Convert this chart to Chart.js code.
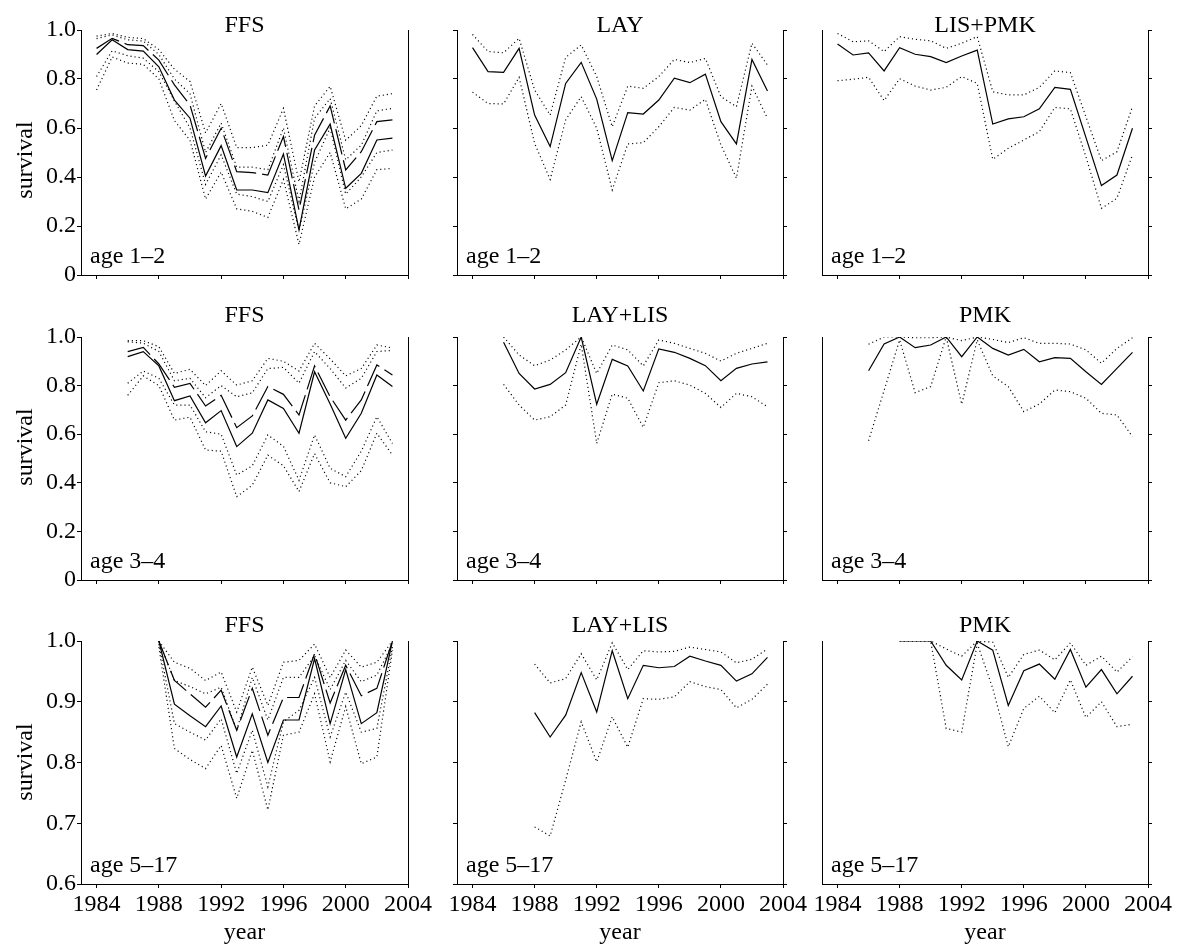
<!DOCTYPE html>
<html>
<head>
<meta charset="utf-8">
<script src="https://cdn.jsdelivr.net/npm/chart.js@4.4.1/dist/chart.umd.min.js"></script>
<style>
  html, body { margin: 0; padding: 0; background: #fff; }
  #wrap { position: relative; width: 1177px; height: 944px; }
  #wrap canvas { position: absolute; left: 0; top: 0; }
</style>
</head>
<body>
<div id="wrap"></div>
<script>
// years
const YEARS_84 = [1984,1985,1986,1987,1988,1989,1990,1991,1992,1993,1994,1995,1996,1997,1998,1999,2000,2001,2002,2003];
const YEARS_86 = [1986,1987,1988,1989,1990,1991,1992,1993,1994,1995,1996,1997,1998,1999,2000,2001,2002,2003];
const YEARS_88 = [1988,1989,1990,1991,1992,1993,1994,1995,1996,1997,1998,1999,2000,2001,2002,2003];

// tick labels
const YEAR_TICKS = [1984, 1988, 1992, 1996, 2000, 2004];
const Y_TICKS_FULL = [0, 0.2, 0.4, 0.6, 0.8, 1.0];
const Y_TICKS_ADULT = [0.6, 0.7, 0.8, 0.9, 1.0];

// FFS age 1-2 (solid estimate 1, dashed estimate 2, dotted bounds)
const ffs12_est1 = [0.90,0.96,0.92,0.914,0.85,0.714,0.64,0.404,0.528,0.347,0.347,0.336,0.494,0.184,0.51,0.616,0.354,0.415,0.551,0.559];
const ffs12_est2 = [0.925,0.966,0.94,0.936,0.877,0.776,0.694,0.476,0.599,0.422,0.418,0.408,0.565,0.265,0.571,0.69,0.429,0.503,0.626,0.633];
const ffs12_hi2 = [0.975,0.986,0.97,0.965,0.92,0.84,0.79,0.58,0.70,0.52,0.52,0.53,0.68,0.38,0.69,0.77,0.55,0.61,0.73,0.74];
const ffs12_hi1 = [0.965,0.98,0.96,0.955,0.90,0.80,0.74,0.50,0.62,0.44,0.44,0.43,0.60,0.30,0.64,0.72,0.47,0.53,0.67,0.68];
const ffs12_lo2 = [0.81,0.915,0.895,0.885,0.83,0.71,0.60,0.37,0.49,0.33,0.32,0.30,0.45,0.18,0.46,0.60,0.33,0.40,0.50,0.51];
const ffs12_lo1 = [0.755,0.89,0.865,0.86,0.80,0.63,0.55,0.31,0.42,0.27,0.26,0.235,0.39,0.125,0.40,0.50,0.27,0.31,0.43,0.435];

// LAY age 1-2
const lay12_est = [0.928,0.83,0.827,0.925,0.653,0.524,0.782,0.868,0.718,0.467,0.663,0.657,0.714,0.803,0.785,0.82,0.626,0.535,0.88,0.751];
const lay12_hi = [0.982,0.912,0.907,0.966,0.755,0.653,0.888,0.939,0.81,0.605,0.771,0.762,0.81,0.88,0.867,0.884,0.728,0.687,0.946,0.857];
const lay12_lo = [0.746,0.70,0.698,0.807,0.537,0.39,0.633,0.728,0.599,0.347,0.535,0.54,0.605,0.684,0.673,0.717,0.531,0.395,0.771,0.639];

// LIS+PMK age 1-2
const lp12_est = [0.943,0.898,0.907,0.833,0.928,0.901,0.891,0.867,0.894,0.918,0.616,0.637,0.646,0.678,0.766,0.758,0.562,0.365,0.408,0.599];
const lp12_hi = [0.986,0.952,0.956,0.912,0.973,0.962,0.956,0.925,0.946,0.973,0.748,0.735,0.735,0.766,0.833,0.826,0.646,0.467,0.503,0.687];
const lp12_lo = [0.793,0.799,0.807,0.712,0.801,0.771,0.755,0.766,0.81,0.782,0.472,0.517,0.551,0.585,0.684,0.678,0.483,0.272,0.313,0.49];

// FFS age 3-4
const ffs34_est1 = [0.919,0.94,0.881,0.738,0.757,0.647,0.697,0.549,0.604,0.741,0.706,0.604,0.857,0.724,0.583,0.686,0.844,0.796];
const ffs34_est2 = [0.94,0.957,0.889,0.793,0.809,0.716,0.76,0.627,0.675,0.796,0.764,0.679,0.881,0.754,0.658,0.741,0.885,0.844];
const ffs34_hi2 = [0.985,0.985,0.96,0.85,0.867,0.80,0.861,0.802,0.82,0.912,0.90,0.86,0.974,0.91,0.84,0.87,0.967,0.955];
const ffs34_hi1 = [0.98,0.975,0.94,0.82,0.83,0.75,0.80,0.754,0.77,0.87,0.875,0.81,0.94,0.87,0.79,0.83,0.94,0.945];
const ffs34_lo2 = [0.81,0.86,0.83,0.72,0.72,0.61,0.60,0.432,0.47,0.597,0.55,0.41,0.597,0.46,0.425,0.53,0.672,0.562];
const ffs34_lo1 = [0.76,0.84,0.80,0.658,0.67,0.535,0.53,0.343,0.39,0.514,0.47,0.364,0.52,0.40,0.384,0.45,0.604,0.514];

// LAY+LIS age 3-4
const ll34_est = [0.978,0.85,0.786,0.805,0.853,1.0,0.723,0.908,0.881,0.778,0.951,0.937,0.912,0.882,0.82,0.871,0.889,0.898];
const ll34_hi = [1.0,0.926,0.882,0.905,0.947,1.0,0.85,0.967,0.947,0.881,0.988,0.974,0.953,0.933,0.901,0.933,0.953,0.974];
const ll34_lo = [0.805,0.72,0.658,0.672,0.72,0.97,0.562,0.765,0.748,0.628,0.812,0.82,0.802,0.768,0.71,0.768,0.754,0.713];

// PMK age 3-4
const pmk34_est = [0.861,0.971,1.0,0.956,0.967,1.0,0.919,1.0,0.953,0.926,0.949,0.898,0.915,0.912,0.857,0.805,0.871,0.937];
const pmk34_hi = [0.97,1.0,1.0,0.997,0.997,1.0,0.985,1.0,0.99,0.977,0.997,0.974,0.974,0.971,0.947,0.892,0.953,0.997];
const pmk34_lo = [0.573,0.78,0.988,0.771,0.796,1.0,0.723,0.988,0.84,0.796,0.693,0.724,0.782,0.775,0.748,0.686,0.679,0.59];

// FFS age 5-17
const ffs517_est1 = [1.0,0.896,0.877,0.859,0.893,0.809,0.88,0.80,0.87,0.87,0.971,0.864,0.953,0.864,0.882,1.0];
const ffs517_est2 = [1.0,0.935,0.913,0.891,0.919,0.853,0.922,0.845,0.907,0.907,0.979,0.898,0.96,0.91,0.922,1.0];
const ffs517_hi2 = [1.0,0.965,0.955,0.935,0.949,0.883,0.957,0.894,0.965,0.968,0.995,0.94,0.985,0.957,0.965,1.0];
const ffs517_hi1 = [1.0,0.935,0.925,0.913,0.924,0.853,0.94,0.87,0.94,0.94,0.976,0.92,0.968,0.933,0.944,0.995];
const ffs517_lo2 = [0.995,0.864,0.85,0.837,0.872,0.782,0.853,0.76,0.867,0.886,0.94,0.842,0.916,0.85,0.856,0.99];
const ffs517_lo1 = [0.99,0.823,0.805,0.79,0.828,0.741,0.82,0.722,0.845,0.85,0.913,0.801,0.892,0.798,0.809,0.985];

// LAY+LIS age 5-17
const ll517_est = [0.882,0.842,0.878,0.948,0.883,0.984,0.905,0.96,0.956,0.958,0.975,0.967,0.96,0.934,0.946,0.973];
const ll517_hi = [0.962,0.931,0.938,0.979,0.936,0.997,0.953,0.984,0.982,0.983,0.99,0.986,0.982,0.964,0.97,0.987];
const ll517_lo = [0.694,0.679,0.771,0.867,0.801,0.875,0.825,0.905,0.904,0.908,0.933,0.925,0.92,0.89,0.904,0.929];

// PMK age 5-17
const pmk517_est = [1.0,1.0,1.0,0.96,0.936,1.0,0.985,0.894,0.951,0.962,0.937,0.986,0.924,0.953,0.913,0.942];
const pmk517_hi = [1.0,1.0,1.0,0.987,0.975,1.0,0.998,0.94,0.978,0.985,0.969,0.997,0.96,0.975,0.949,0.974];
const pmk517_lo = [1.0,1.0,1.0,0.856,0.85,0.996,0.922,0.826,0.889,0.909,0.882,0.936,0.874,0.90,0.859,0.863];

// layout
const W = 1177, H = 944;
const COL_LEFT = [81, 457, 822];
const COL_RIGHT = [408, 783, 1148];
const ROW_TOP = [30, 337, 641];
const ROW_BOTTOM = [275, 580, 884];
const TITLE_Y = [32, 322, 632];
const SURVIVAL_MID = [160, 447, 762];
const AXIS_W = 40, AXIS_H = 40;

const FONT = { family: "'Liberation Serif', 'Times New Roman', serif", size: 24 };
const FONT_CSS = "24px 'Liberation Serif', 'Times New Roman', serif";

const SOLID = [], DASHED = [26, 6], DOTTED = [1.1, 3];

const panels = [
  { r: 0, c: 0, title: 'FFS', age: 'age 1–2', years: YEARS_84,
    lines: [[ffs12_hi2, DOTTED], [ffs12_hi1, DOTTED], [ffs12_lo2, DOTTED], [ffs12_lo1, DOTTED], [ffs12_est2, DASHED], [ffs12_est1, SOLID]] },
  { r: 0, c: 1, title: 'LAY', age: 'age 1–2', years: YEARS_84,
    lines: [[lay12_hi, DOTTED], [lay12_lo, DOTTED], [lay12_est, SOLID]] },
  { r: 0, c: 2, title: 'LIS+PMK', age: 'age 1–2', years: YEARS_84,
    lines: [[lp12_hi, DOTTED], [lp12_lo, DOTTED], [lp12_est, SOLID]] },
  { r: 1, c: 0, title: 'FFS', age: 'age 3–4', years: YEARS_86,
    lines: [[ffs34_hi2, DOTTED], [ffs34_hi1, DOTTED], [ffs34_lo2, DOTTED], [ffs34_lo1, DOTTED], [ffs34_est2, DASHED], [ffs34_est1, SOLID]] },
  { r: 1, c: 1, title: 'LAY+LIS', age: 'age 3–4', years: YEARS_86,
    lines: [[ll34_hi, DOTTED], [ll34_lo, DOTTED], [ll34_est, SOLID]] },
  { r: 1, c: 2, title: 'PMK', age: 'age 3–4', years: YEARS_86,
    lines: [[pmk34_hi, DOTTED], [pmk34_lo, DOTTED], [pmk34_est, SOLID]] },
  { r: 2, c: 0, title: 'FFS', age: 'age 5–17', years: YEARS_88,
    lines: [[ffs517_hi2, DOTTED], [ffs517_hi1, DOTTED], [ffs517_lo2, DOTTED], [ffs517_lo1, DOTTED], [ffs517_est2, DASHED], [ffs517_est1, SOLID]] },
  { r: 2, c: 1, title: 'LAY+LIS', age: 'age 5–17', years: YEARS_88,
    lines: [[ll517_hi, DOTTED], [ll517_lo, DOTTED], [ll517_est, SOLID]] },
  { r: 2, c: 2, title: 'PMK', age: 'age 5–17', years: YEARS_88,
    lines: [[pmk517_hi, DOTTED], [pmk517_lo, DOTTED], [pmk517_est, SOLID]] },
];

// panel titles, age labels and axis titles
const panelText = {
  id: 'panelText',
  afterDraw(chart, args, o) {
    const { ctx, chartArea: a } = chart;
    const mid = (a.left + a.right) / 2;
    ctx.save();
    ctx.fillStyle = '#000';
    ctx.font = FONT_CSS;
    ctx.textBaseline = 'alphabetic';
    ctx.textAlign = 'center';
    ctx.fillText(o.title, mid, o.titleY);
    ctx.textAlign = 'left';
    ctx.fillText(o.age, a.left + 9, a.bottom - 12);
    if (o.xTitle) {
      ctx.textAlign = 'center';
      ctx.fillText('year', mid, 939);
    }
    if (o.yTitle) {
      ctx.translate(32, o.yMid);
      ctx.rotate(-Math.PI / 2);
      ctx.textAlign = 'center';
      ctx.fillText('survival', 0, 0);
    }
    ctx.restore();
  }
};

const wrap = document.getElementById('wrap');

panels.forEach(p => {
  const canvas = document.createElement('canvas');
  canvas.width = W;
  canvas.height = H;
  wrap.appendChild(canvas);

  const adult = p.r === 2;
  const yTicks = adult ? Y_TICKS_ADULT : Y_TICKS_FULL;
  const yMin = adult ? 0.6 : 0;
  const yFmt = v => (v === 0 ? '0' : v.toFixed(1));

  const datasets = p.lines.map(([vals, dash]) => ({
    data: p.years.map((x, i) => ({ x, y: vals[i] })),
    borderColor: '#000',
    borderWidth: dash === DOTTED ? 1.2 : 1.2,
    borderDash: dash,
    borderCapStyle: 'butt',
    pointRadius: 0,
    tension: 0,
    fill: false,
  }));

  const yScale = (pos, ticksOn, labelsOn) => ({
    type: 'linear',
    position: pos,
    min: yMin,
    max: 1,
    afterBuildTicks: s => { s.ticks = yTicks.map(v => ({ value: v })); },
    afterFit: s => { s.width = AXIS_W; },
    grid: { display: true, drawOnChartArea: false, drawTicks: ticksOn, tickLength: 4, color: '#000', lineWidth: 1 },
    border: { display: true, color: '#000', width: 1 },
    ticks: { display: labelsOn, font: FONT, color: '#000', padding: 1, callback: yFmt },
  });

  new Chart(canvas, {
    type: 'line',
    data: { datasets },
    plugins: [panelText],
    options: {
      responsive: false,
      animation: false,
      events: [],
      layout: {
        autoPadding: false,
        padding: {
          left: COL_LEFT[p.c] - AXIS_W,
          right: W - COL_RIGHT[p.c] - AXIS_W,
          top: ROW_TOP[p.r],
          bottom: H - ROW_BOTTOM[p.r] - AXIS_H,
        },
      },
      plugins: {
        legend: { display: false },
        tooltip: { enabled: false },
        panelText: {
          title: p.title,
          age: p.age,
          titleY: TITLE_Y[p.r],
          xTitle: p.r === 2,
          yTitle: p.c === 0,
          yMid: SURVIVAL_MID[p.r],
        },
      },
      scales: {
        x: {
          type: 'linear',
          min: 1983,
          max: 2004,
          afterBuildTicks: s => { s.ticks = YEAR_TICKS.map(v => ({ value: v })); },
          afterFit: s => { s.height = AXIS_H; },
          grid: { display: true, drawOnChartArea: false, drawTicks: true, tickLength: 4, color: '#000', lineWidth: 1 },
          border: { display: true, color: '#000', width: 1 },
          ticks: { display: p.r === 2, font: FONT, color: '#000', padding: 2, maxRotation: 0, autoSkip: false, callback: v => String(v) },
        },
        y: yScale('left', p.c < 2, p.c === 0),
        y2: yScale('right', p.c > 0, false),
      },
    },
  });
});
</script>
</body>
</html>
